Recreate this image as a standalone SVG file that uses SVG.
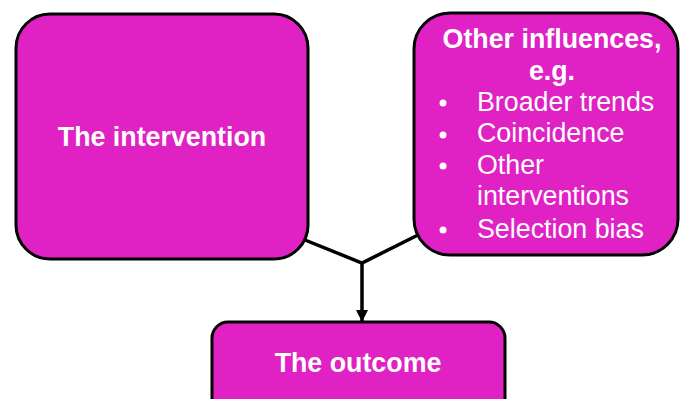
<svg xmlns="http://www.w3.org/2000/svg" width="680" height="399" viewBox="0 0 680 399">
<defs>
<style>
.box{fill:#E022C4;stroke:#000;stroke-width:3}
.t{font-family:"Liberation Sans",Arial,sans-serif;fill:#fff;font-size:26.8px}
.b{font-weight:bold}
.c{stroke:#000;stroke-width:3.5;fill:none}
</style>
<marker id="ah" markerWidth="12" markerHeight="12" viewBox="0 0 12 12" refX="11" refY="6" orient="auto" markerUnits="userSpaceOnUse">
<path d="M0,0 L12,6 L0,12 Z" fill="#000"/>
</marker>
</defs>
<g id="connectors">
<path class="c" d="M300,238 L362,263 L418,235"/>
<line class="c" x1="362" y1="262" x2="362" y2="321" marker-end="url(#ah)"/>
</g>
<g id="intervention">
<rect class="box" x="16" y="14" width="292" height="245" rx="34"/>
<text class="t b" x="162" y="146" text-anchor="middle">The intervention</text>
</g>
<g id="influences">
<rect class="box" x="414" y="13" width="264" height="242" rx="36"/>
<text class="t b" x="552" y="48" text-anchor="middle">Other influences,</text>
<text class="t b" x="552" y="80" text-anchor="middle">e.g.</text>
<g fill="#fff">
<circle cx="443" cy="103" r="3.5"/>
<circle cx="443" cy="135" r="3.5"/>
<circle cx="443" cy="166" r="3.5"/>
<circle cx="443" cy="230" r="3.5"/>
</g>
<text class="t" x="477" y="111">Broader trends</text>
<text class="t" x="477" y="142">Coincidence</text>
<text class="t" x="477" y="174">Other</text>
<text class="t" x="477" y="205">interventions</text>
<text class="t" x="477" y="238">Selection bias</text>
</g>
<g id="outcome">
<rect class="box" x="212" y="322" width="293" height="95" rx="16"/>
<text class="t b" x="358" y="372" text-anchor="middle">The outcome</text>
</g>
</svg>
